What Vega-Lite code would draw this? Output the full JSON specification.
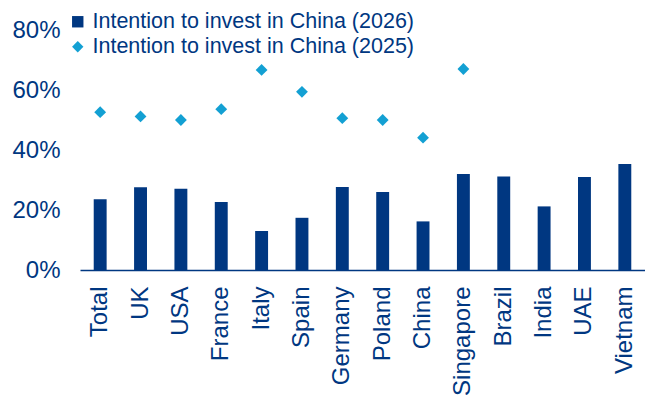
{
  "$schema": "https://vega.github.io/schema/vega-lite/v6.json",
  "width": 565,
  "height": 240,
  "autosize": {"type": "none"},
  "padding": {"left": 80, "top": 30, "right": 0, "bottom": 131},
  "background": "white",
  "config": {
    "view": {"stroke": null},
    "font": "Liberation Sans",
    "axis": {"labelFont": "Liberation Sans", "labelColor": "#003781", "labelFontSize": 24, "grid": false, "title": null}
  },
  "data": {
    "values": [
      {"country": "Total", "series": "Intention to invest in China (2026)", "value": 0.236},
      {"country": "UK", "series": "Intention to invest in China (2026)", "value": 0.276},
      {"country": "USA", "series": "Intention to invest in China (2026)", "value": 0.271},
      {"country": "France", "series": "Intention to invest in China (2026)", "value": 0.227},
      {"country": "Italy", "series": "Intention to invest in China (2026)", "value": 0.13},
      {"country": "Spain", "series": "Intention to invest in China (2026)", "value": 0.174},
      {"country": "Germany", "series": "Intention to invest in China (2026)", "value": 0.277},
      {"country": "Poland", "series": "Intention to invest in China (2026)", "value": 0.26},
      {"country": "China", "series": "Intention to invest in China (2026)", "value": 0.162},
      {"country": "Singapore", "series": "Intention to invest in China (2026)", "value": 0.32},
      {"country": "Brazil", "series": "Intention to invest in China (2026)", "value": 0.312},
      {"country": "India", "series": "Intention to invest in China (2026)", "value": 0.212},
      {"country": "UAE", "series": "Intention to invest in China (2026)", "value": 0.31},
      {"country": "Vietnam", "series": "Intention to invest in China (2026)", "value": 0.353},
      {"country": "Total", "series": "Intention to invest in China (2025)", "value": 0.526},
      {"country": "UK", "series": "Intention to invest in China (2025)", "value": 0.512},
      {"country": "USA", "series": "Intention to invest in China (2025)", "value": 0.5},
      {"country": "France", "series": "Intention to invest in China (2025)", "value": 0.536},
      {"country": "Italy", "series": "Intention to invest in China (2025)", "value": 0.667},
      {"country": "Spain", "series": "Intention to invest in China (2025)", "value": 0.594},
      {"country": "Germany", "series": "Intention to invest in China (2025)", "value": 0.506},
      {"country": "Poland", "series": "Intention to invest in China (2025)", "value": 0.5},
      {"country": "China", "series": "Intention to invest in China (2025)", "value": 0.441},
      {"country": "Singapore", "series": "Intention to invest in China (2025)", "value": 0.67}
    ]
  },
  "encoding": {
    "x": {
      "field": "country", "type": "nominal", "sort": null,
      "scale": {"paddingInner": 0.68, "paddingOuter": 0.34},
      "axis": {"labelAngle": -90, "ticks": false, "tickSize": 0, "labelPadding": 16, "domainColor": "#003781", "domainWidth": 1.5, "labelLimit": 200}
    },
    "y": {
      "field": "value", "type": "quantitative",
      "scale": {"domain": [0, 0.8]},
      "axis": {"values": [0, 0.2, 0.4, 0.6, 0.8], "format": ".0%", "domain": false, "ticks": false, "tickSize": 0, "labelPadding": 20}
    },
    "color": {
      "field": "series", "type": "nominal",
      "scale": {"domain": ["Intention to invest in China (2026)", "Intention to invest in China (2025)"], "range": ["#003781", "#13A0D3"]},
      "legend": {
        "title": null, "orient": "none", "legendX": -13, "legendY": -19,
        "labelFont": "Liberation Sans", "labelFontSize": 21.5, "labelColor": "#003781", "labelLimit": 500,
        "symbolSize": 130, "rowPadding": 2, "labelOffset": 4, "padding": 0,
        "symbolStrokeWidth": 0,
        "encode": {"symbols": {"update": {"shape": {"signal": "indexof(datum.value, '2026') >= 0 ? 'square' : 'diamond'"}, "strokeWidth": {"value": 0}}}}
      }
    }
  },
  "layer": [
    {"transform": [{"filter": "indexof(datum.series, '2026') >= 0"}], "mark": {"type": "bar"}},
    {"transform": [{"filter": "indexof(datum.series, '2025') >= 0"}], "mark": {"type": "point", "shape": "diamond", "filled": true, "size": 140, "opacity": 1}}
  ]
}
